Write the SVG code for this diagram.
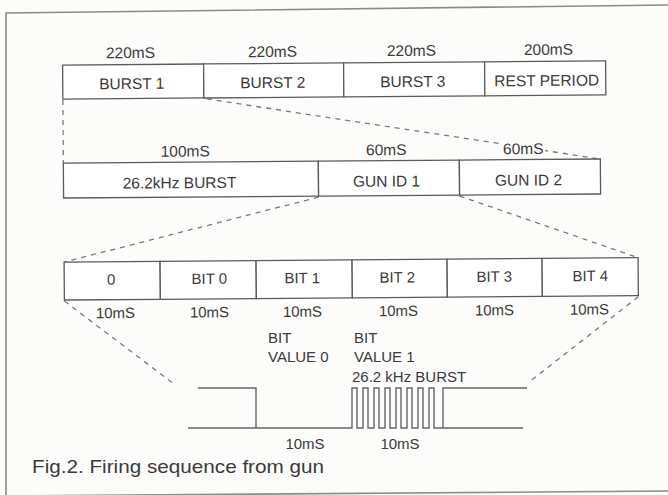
<svg xmlns="http://www.w3.org/2000/svg" width="668" height="495" viewBox="0 0 668 495">
<style>
  .bg { fill: #fcfcfa; }
  .frame { fill: none; stroke: #8a8a88; stroke-width: 1.6; }
  .box { fill: #ffffff; stroke: #5a5a5a; stroke-width: 1.3; }
  .dash { fill: none; stroke: #7a7a7a; stroke-width: 1.3; stroke-dasharray: 5 5; }
  .wave { fill: none; stroke: #666666; stroke-width: 1.4; }
  text { font-family: "Liberation Sans", Arial, sans-serif; fill: #3a3a3a; }
  .lbl { font-size: 15.5px; text-anchor: middle; }
  .bit { font-size: 15px; text-anchor: middle; }
  .note { font-size: 15px; }
  .cap { font-size: 19px; }
  .halo { paint-order: stroke; stroke: #fcfcfa; stroke-width: 5px; stroke-linejoin: round; }
</style>
<rect class="bg" x="0" y="0" width="668" height="495"/>
<g id="frame">
  <path class="frame" d="M6,496 V13 L668,5"/>
  <path class="frame" d="M6,496 L668,491"/>
</g>
<g transform="rotate(-0.43 334 250)">
  <g id="connectors">
    <path class="dash" d="M64,98 V161"/>
    <path class="dash" d="M208,98 L601,161"/>
    <path class="dash" d="M319,197 L64,260"/>
    <path class="dash" d="M460,197 L638,260"/>
    <path class="dash" d="M64,299 L172,382"/>
    <path class="dash" d="M638,299 L530,382"/>
  </g>
  <g id="row1">
    <g id="burst1">
      <rect class="box" x="64" y="63" width="141" height="34"/>
      <text class="lbl" x="132" y="56.5">220mS</text>
      <text class="lbl" x="133" y="87.5">BURST 1</text>
    </g>
    <g id="burst2">
      <rect class="box" x="205" y="63" width="140" height="34"/>
      <text class="lbl" x="274" y="56.5">220mS</text>
      <text class="lbl" x="274" y="87.5">BURST 2</text>
    </g>
    <g id="burst3">
      <rect class="box" x="345" y="63" width="141" height="34"/>
      <text class="lbl" x="413" y="56.5">220mS</text>
      <text class="lbl" x="414" y="87.5">BURST 3</text>
    </g>
    <g id="rest">
      <rect class="box" x="486" y="63" width="121" height="34"/>
      <text class="lbl" x="550" y="56.5">200mS</text>
      <text class="lbl" x="548" y="87.5">REST PERIOD</text>
    </g>
  </g>
  <g id="row2">
    <g id="khzburst">
      <rect class="box" x="64" y="161" width="255" height="35"/>
      <text class="lbl" x="186" y="155.5">100mS</text>
      <text class="lbl" x="180" y="187">26.2kHz BURST</text>
    </g>
    <g id="gunid1">
      <rect class="box" x="319" y="161" width="141" height="35"/>
      <text class="lbl" x="387" y="155.5">60mS</text>
      <text class="lbl" x="387" y="187">GUN ID 1</text>
    </g>
    <g id="gunid2">
      <rect class="box" x="460" y="161" width="141" height="35"/>
      <text class="lbl halo" x="524" y="155.5">60mS</text>
      <text class="lbl" x="529" y="187">GUN ID 2</text>
    </g>
  </g>
  <g id="row3">
    <g id="bitstart">
      <rect class="box" x="64" y="260" width="96" height="38"/>
      <text class="bit" x="111" y="283">0</text>
      <text class="bit halo" x="115" y="316.5">10mS</text>
    </g>
    <g id="bit0">
      <rect class="box" x="160" y="260" width="96" height="38"/>
      <text class="bit" x="209" y="283">BIT 0</text>
      <text class="bit" x="209" y="316.5">10mS</text>
    </g>
    <g id="bit1">
      <rect class="box" x="256" y="260" width="96" height="38"/>
      <text class="bit" x="302" y="283">BIT 1</text>
      <text class="bit" x="302" y="316.5">10mS</text>
    </g>
    <g id="bit2">
      <rect class="box" x="352" y="260" width="95" height="38"/>
      <text class="bit" x="397" y="283">BIT 2</text>
      <text class="bit" x="398" y="316.5">10mS</text>
    </g>
    <g id="bit3">
      <rect class="box" x="447" y="260" width="95" height="38"/>
      <text class="bit" x="494" y="283">BIT 3</text>
      <text class="bit" x="494" y="316.5">10mS</text>
    </g>
    <g id="bit4">
      <rect class="box" x="542" y="260" width="96" height="38"/>
      <text class="bit" x="590" y="283">BIT 4</text>
      <text class="bit halo" x="589" y="316.5">10mS</text>
    </g>
  </g>
</g>
<g id="waveform">
  <path class="wave" d="M198,388 H256 V428"/>
  <path class="wave" d="M188,428 H352 V388 H357 V428 H363 V388 H368 V428 H374 V388 H379 V428 H385 V388 H390 V428 H396 V388 H401 V428 H407 V388 H412 V428 H418 V388 H423 V428 H429 V388 H434 V428 H523"/>
  <path class="wave" d="M527,388 H443 V428"/>
  <text class="note" x="268" y="343">BIT</text>
  <text class="note" x="268" y="362">VALUE 0</text>
  <text class="note" x="354" y="343">BIT</text>
  <text class="note" x="354" y="362">VALUE 1</text>
  <text class="note" x="352" y="382">26.2 kHz BURST</text>
  <text class="bit" x="305" y="449">10mS</text>
  <text class="bit" x="400" y="449">10mS</text>
</g>
<g id="caption">
  <text class="cap" x="32" y="473" textLength="292" lengthAdjust="spacingAndGlyphs">Fig.2. Firing sequence from gun</text>
</g>
</svg>
